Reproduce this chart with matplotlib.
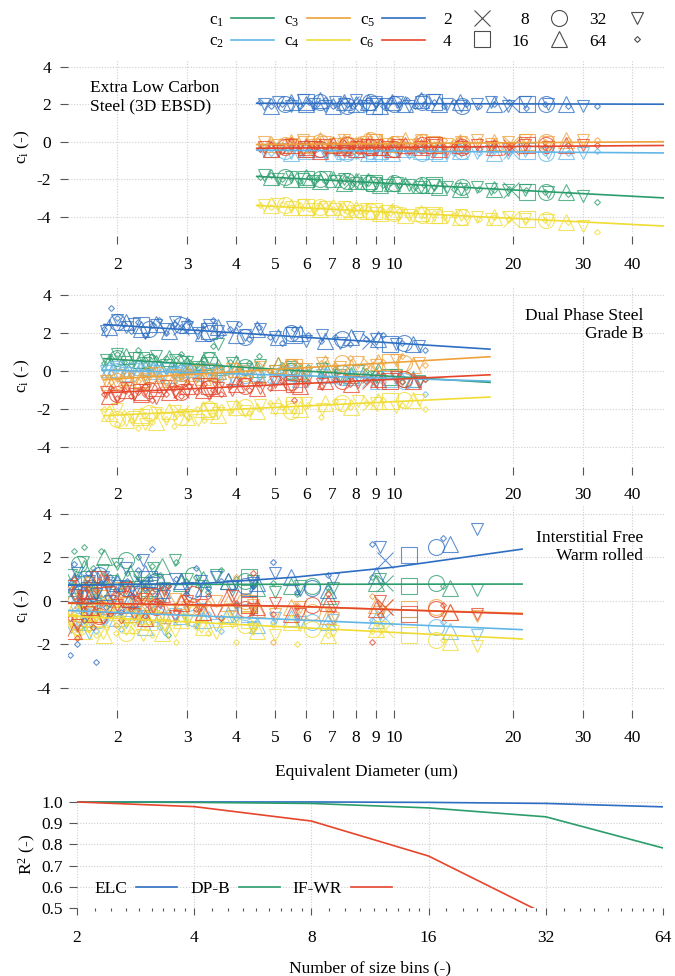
import matplotlib
matplotlib.use("Agg")
import matplotlib.pyplot as plt
from matplotlib.lines import Line2D
from matplotlib.ticker import FixedLocator, NullLocator, NullFormatter

plt.rcParams['font.family'] = ['Liberation Serif', 'DejaVu Serif']
plt.rcParams['mathtext.fontset'] = 'custom'
plt.rcParams['mathtext.rm'] = 'Liberation Serif'
plt.rcParams['mathtext.it'] = 'Liberation Serif:italic'
plt.rcParams['axes.unicode_minus'] = False

# bin counts and the shapes used for them
BINS = [2, 4, 8, 16, 32, 64]
COEFS = ['c1', 'c2', 'c3', 'c4', 'c5', 'c6']
COLORS = {'c1': '#2b9d6c', 'c2': '#62b6e7', 'c3': '#eea23c',
          'c4': '#f0dc34', 'c5': '#2d6ec2', 'c6': '#e6462c'}
MARKERS = {2: ('x', 12), 4: ('s', 11), 8: ('o', 11.5),
           16: ('^', 11), 32: ('v', 9), 64: ('D', 3)}

# ---------------- Extra Low Carbon (3D EBSD) ----------------
# bin centre diameters (um), one list per bin count (32 and 64 thinned out)
elc_diam = [
    [7.8, 19.8],
    [6.0, 8.9, 12.6, 21.7],
    [5.3, 6.5, 7.6, 8.7, 10.0, 11.8, 14.9, 24.2],
    [4.9, 5.5, 6.0, 6.5, 7.0, 7.5, 8.0, 8.6, 9.2, 9.9, 10.7, 11.7, 13.0, 14.7, 17.9, 27.3],
    [4.7, 5.1, 5.5, 5.9, 6.3, 6.7, 7.1, 7.5, 8.0, 8.5, 9.0, 9.6,
     10.2, 10.9, 11.7, 12.6, 13.6, 14.8, 16.2, 17.6, 19.4, 21.5, 24.5, 30.0],
    [4.6, 4.9, 5.2, 5.5, 5.8, 6.1, 6.4, 6.7, 7.0, 7.3, 7.6, 7.9, 8.2, 8.6, 9.0, 9.4,
     9.8, 10.3, 10.8, 11.3, 11.9, 12.6, 13.4, 14.2, 15.2, 16.4, 17.9, 19.5, 21.6, 24.1, 27.5, 32.7],
]
elc_c1 = [
    [-2.1, -2.6],
    [-2.0, -2.2, -2.3, -2.7],
    [-1.9, -2.0, -2.1, -2.2, -2.2, -2.3, -2.4, -2.7],
    [-1.9, -2.0, -1.9, -2.1, -2.0, -2.2, -2.1, -2.1, -2.3, -2.2, -2.3, -2.3, -2.4, -2.5, -2.5, -2.7],
    [-1.8, -2.0, -1.9, -2.0, -2.1, -1.9, -2.1, -2.0, -2.2, -2.1, -2.2, -2.3,
     -2.2, -2.3, -2.4, -2.3, -2.4, -2.5, -2.4, -2.5, -2.6, -2.6, -2.7, -2.9],
    [-1.9, -1.8, -2.0, -1.9, -2.1, -1.9, -2.0, -2.1, -1.9, -2.1, -2.0, -2.2, -2.1, -2.2, -2.1, -2.3,
     -2.2, -2.3, -2.2, -2.4, -2.3, -2.4, -2.3, -2.5, -2.4, -2.5, -2.6, -2.5, -2.6, -2.7, -2.8, -3.2],
]
elc_c2 = [
    [-0.5, -0.5],
    [-0.4, -0.6, -0.5, -0.5],
    [-0.5, -0.4, -0.6, -0.5, -0.4, -0.6, -0.5, -0.6],
    [-0.4, -0.6, -0.5, -0.4, -0.6, -0.5, -0.4, -0.6, -0.5, -0.6, -0.4, -0.5, -0.6, -0.5, -0.6, -0.5],
    [-0.5, -0.4, -0.6, -0.5, -0.3, -0.6, -0.5, -0.4, -0.6, -0.5, -0.4, -0.6,
     -0.5, -0.6, -0.4, -0.5, -0.6, -0.5, -0.6, -0.5, -0.6, -0.5, -0.6, -0.6],
    [-0.4, -0.6, -0.5, -0.3, -0.6, -0.5, -0.4, -0.6, -0.5, -0.4, -0.6, -0.5, -0.4, -0.6, -0.5, -0.6,
     -0.4, -0.5, -0.6, -0.5, -0.4, -0.6, -0.5, -0.6, -0.5, -0.6, -0.5, -0.6, -0.5, -0.6, -0.6, -0.5],
]
elc_c3 = [
    [-0.1, -0.1],
    [-0.1, 0.0, -0.2, 0.0],
    [-0.2, 0.0, -0.1, 0.1, -0.1, 0.0, -0.1, 0.0],
    [-0.1, 0.0, -0.2, 0.1, -0.1, 0.0, -0.2, 0.1, 0.0, -0.1, 0.1, 0.0, -0.1, 0.0, 0.0, 0.1],
    [0.0, -0.2, -0.1, 0.1, -0.2, 0.0, -0.1, 0.1, -0.1, 0.0, 0.1, -0.1,
     0.0, -0.2, 0.1, 0.0, -0.1, 0.0, 0.1, -0.1, 0.0, 0.1, 0.0, 0.1],
    [-0.1, 0.0, -0.2, 0.1, -0.1, -0.2, 0.1, 0.0, -0.1, 0.1, -0.2, 0.0, 0.1, -0.1, 0.0, -0.2,
     0.1, 0.0, -0.1, 0.1, 0.0, -0.1, 0.1, 0.0, -0.1, 0.1, 0.0, -0.1, 0.1, 0.0, 0.1, 0.1],
]
elc_c4 = [
    [-3.7, -4.1],
    [-3.5, -3.7, -3.9, -4.1],
    [-3.4, -3.5, -3.6, -3.7, -3.8, -3.9, -4.0, -4.2],
    [-3.4, -3.5, -3.5, -3.6, -3.5, -3.7, -3.6, -3.7, -3.8, -3.7, -3.9, -3.8, -3.9, -4.0, -4.0, -4.3],
    [-3.4, -3.3, -3.5, -3.4, -3.6, -3.5, -3.6, -3.5, -3.7, -3.6, -3.8, -3.7,
     -3.8, -3.9, -3.8, -3.9, -4.0, -3.9, -4.0, -4.1, -4.0, -4.1, -4.2, -4.5],
    [-3.4, -3.5, -3.3, -3.5, -3.4, -3.6, -3.5, -3.4, -3.6, -3.5, -3.7, -3.6, -3.7, -3.6, -3.8, -3.7,
     -3.8, -3.7, -3.9, -3.8, -3.9, -3.8, -4.0, -3.9, -4.0, -4.1, -4.0, -4.1, -4.2, -4.2, -4.3, -4.8],
]
elc_c5 = [
    [2.0, 2.0],
    [2.1, 1.9, 2.1, 2.0],
    [2.0, 2.1, 1.9, 2.1, 2.0, 2.1, 1.9, 2.0],
    [1.9, 2.1, 2.0, 2.2, 1.9, 2.1, 2.0, 2.1, 1.9, 2.1, 2.0, 2.2, 2.0, 2.1, 2.0, 2.0],
    [2.0, 2.1, 1.9, 2.2, 2.0, 1.9, 2.1, 2.0, 2.2, 1.9, 2.1, 2.0,
     2.1, 1.9, 2.1, 2.2, 2.0, 1.9, 2.0, 2.1, 1.9, 2.1, 2.0, 1.9],
    [2.1, 1.9, 2.0, 2.2, 1.9, 2.1, 2.0, 2.2, 1.9, 2.1, 2.0, 1.9, 2.1, 2.2, 2.0, 1.9,
     2.1, 2.0, 2.2, 1.9, 2.0, 2.1, 1.9, 2.1, 2.0, 1.9, 2.0, 2.1, 1.8, 2.0, 1.9, 1.9],
]
elc_c6 = [
    [-0.3, -0.3],
    [-0.4, -0.3, -0.2, -0.2],
    [-0.3, -0.4, -0.2, -0.3, -0.4, -0.2, -0.3, -0.2],
    [-0.4, -0.2, -0.3, -0.5, -0.2, -0.3, -0.4, -0.2, -0.3, -0.4, -0.2, -0.3, -0.4, -0.2, -0.3, -0.2],
    [-0.3, -0.5, -0.2, -0.4, -0.3, -0.2, -0.4, -0.5, -0.3, -0.2, -0.4, -0.3,
     -0.2, -0.4, -0.3, -0.2, -0.4, -0.3, -0.2, -0.3, -0.4, -0.2, -0.3, -0.2],
    [-0.4, -0.2, -0.5, -0.3, -0.2, -0.4, -0.3, -0.5, -0.2, -0.3, -0.4, -0.2, -0.5, -0.3, -0.2, -0.4,
     -0.3, -0.2, -0.4, -0.3, -0.2, -0.4, -0.3, -0.2, -0.3, -0.4, -0.2, -0.3, -0.2, -0.3, -0.2, -0.2],
]
elc_fit_x = [4.5, 48.5]
elc_fit = {'c1': [-1.85, -3.0], 'c2': [-0.45, -0.6], 'c3': [-0.15, 0.0],
           'c4': [-3.4, -4.5], 'c5': [2.05, 2.0], 'c6': [-0.35, -0.2]}

# ---------------- Dual Phase Steel Grade B ----------------
dp_diam = [
    [2.9, 8.7],
    [2.3, 3.4, 5.6, 9.8],
    [2.0, 2.4, 2.9, 3.4, 4.2, 5.5, 7.4, 10.6],
    [1.9, 2.1, 2.3, 2.5, 2.7, 3.0, 3.3, 3.6, 4.0, 4.5, 5.1, 5.8, 6.7, 7.8, 9.1, 11.2],
    [1.87, 2.0, 2.1, 2.2, 2.35, 2.5, 2.65, 2.8, 3.0, 3.2, 3.4, 3.6,
     3.9, 4.2, 4.6, 5.0, 5.5, 6.0, 6.6, 7.3, 8.1, 9.0, 10.1, 11.6],
    [1.85, 1.93, 2.0, 2.08, 2.16, 2.25, 2.35, 2.45, 2.55, 2.66, 2.78, 2.9, 3.03, 3.17, 3.32, 3.48,
     3.65, 3.85, 4.06, 4.3, 4.55, 4.85, 5.2, 5.6, 6.05, 6.55, 7.1, 7.75, 8.5, 9.4, 10.5, 12.0],
]
dp_c1 = [
    [0.4, -0.2],
    [0.6, 0.3, 0.0, -0.3],
    [0.7, 0.5, 0.4, 0.6, 0.2, 0.0, -0.1, -0.4],
    [0.5, 0.8, 0.6, 0.4, 0.7, 0.3, 0.5, 0.2, 0.4, 0.1, 0.3, -0.1, 0.1, -0.2, 0.0, -0.4],
    [0.6, 0.9, 0.5, 0.7, 0.4, 0.8, 0.3, 0.6, 0.5, 0.2, 0.7, 1.4,
     0.4, 0.1, 0.3, 0.0, 0.2, -0.1, 0.1, -0.2, 0.0, -0.3, -0.2, -0.5],
    [0.4, 0.7, 0.9, 0.5, 0.3, 1.1, 0.6, 0.8, 0.4, 0.7, 0.2, 0.9, 0.5, 0.3, 0.6, 1.3,
     0.2, 0.5, 0.1, 0.4, 0.8, 0.0, 0.3, -0.1, 0.2, -0.2, 0.1, -0.3, 0.0, -0.2, -0.5, -0.4],
]
dp_c2 = [
    [0.0, -0.4],
    [0.1, -0.1, -0.2, -0.4],
    [0.0, 0.1, -0.1, 0.0, -0.2, -0.1, -0.3, -0.5],
    [0.1, -0.1, 0.2, 0.0, -0.2, 0.1, -0.1, 0.0, -0.3, -0.1, -0.2, -0.4, -0.2, -0.3, -0.5, -0.4],
    [0.0, 0.2, -0.1, 0.1, -0.2, 0.0, 0.1, -0.1, 0.0, -0.2, 0.1, -0.1,
     -0.3, 0.0, -0.2, -0.4, -0.1, -0.3, -0.2, -0.4, -0.3, -0.5, -0.4, -0.6],
    [0.1, -0.1, 0.2, 0.0, -0.2, 0.1, -0.1, 0.3, -0.2, 0.0, 0.1, -0.3, 0.0, -0.1, 0.2, -0.2,
     -0.4, 0.0, -0.2, -0.1, -0.3, -0.5, -0.2, -0.4, -0.1, -0.3, -0.5, -0.2, -0.4, -0.6, -0.3, -1.2],
]
dp_c3 = [
    [-0.3, 0.3],
    [-0.4, -0.1, 0.2, 0.5],
    [-0.5, -0.2, -0.4, 0.0, -0.1, 0.2, 0.4, 0.4],
    [-0.6, -0.3, -0.5, -0.2, -0.4, -0.1, -0.3, 0.0, 0.1, -0.2, 0.3, 0.0, 0.4, 0.2, 0.5, 0.3],
    [-0.5, -0.2, -0.6, -0.3, -0.4, -0.1, -0.5, -0.2, -0.3, 0.0, -0.2, -0.4,
     0.1, -0.1, 0.2, 0.0, 0.3, 0.1, 0.4, 0.2, 0.5, 0.3, 0.6, 0.4],
    [-0.3, -0.6, -0.4, -0.7, -0.2, -0.5, -0.3, -0.1, -0.4, -0.6, -0.2, -0.3, 0.0, -0.4, -0.1, -0.3,
     0.1, -0.2, 0.2, -0.1, 0.3, 0.0, 0.2, 0.5, 0.1, 0.4, 0.3, 0.7, 0.2, 0.5, 0.8, 0.3],
]
dp_c4 = [
    [-2.2, -1.7],
    [-2.4, -2.1, -1.8, -1.6],
    [-2.5, -2.2, -2.4, -2.0, -1.9, -2.1, -1.7, -1.5],
    [-2.2, -2.6, -2.3, -2.7, -2.1, -2.4, -2.0, -2.3, -1.9, -2.1, -1.8, -2.0, -1.7, -1.9, -1.6, -1.5],
    [-2.3, -2.0, -2.6, -2.4, -2.8, -2.2, -2.5, -2.1, -2.3, -2.6, -2.0, -2.2,
     -1.9, -2.1, -1.8, -2.0, -1.9, -1.7, -2.0, -1.8, -1.6, -1.7, -1.9, -1.5],
    [-2.0, -2.4, -2.8, -2.2, -2.6, -3.0, -2.3, -2.7, -2.1, -2.5, -2.9, -2.2, -2.4, -2.0, -2.6, -2.3,
     -1.9, -2.1, -1.8, -2.2, -2.0, -1.7, -1.9, -2.1, -1.8, -2.4, -1.6, -1.9, -1.7, -1.5, -1.8, -2.0],
]
dp_c5 = [
    [2.3, 1.6],
    [2.4, 2.1, 1.9, 1.4],
    [2.6, 2.2, 2.4, 2.0, 1.8, 2.0, 1.7, 1.5],
    [2.3, 2.6, 2.2, 2.5, 2.1, 2.4, 2.0, 2.3, 1.9, 2.2, 1.8, 2.0, 1.6, 1.8, 1.7, 1.4],
    [2.1, 2.7, 2.3, 2.5, 2.0, 2.4, 2.2, 2.6, 2.3, 2.0, 2.4, 2.1,
     2.3, 1.9, 2.2, 1.8, 2.0, 1.6, 1.9, 1.5, 1.8, 1.7, 1.4, 1.3],
    [2.2, 3.3, 2.8, 2.5, 2.1, 2.6, 1.9, 2.4, 2.7, 2.0, 2.5, 2.3, 2.6, 2.1, 2.4, 2.7,
     1.9, 2.2, 2.5, 1.7, 2.3, 1.8, 1.5, 2.2, 1.9, 1.6, 1.8, 1.4, 1.7, 1.9, 1.5, 1.1],
]
dp_c6 = [
    [-1.0, -0.5],
    [-1.1, -0.8, -0.7, -0.5],
    [-1.2, -1.0, -1.1, -0.9, -0.8, -0.6, -0.5, -0.4],
    [-1.3, -1.0, -1.2, -0.9, -1.1, -0.8, -1.0, -0.9, -0.7, -0.9, -0.6, -0.8, -0.5, -0.7, -0.4, -0.5],
    [-1.1, -1.3, -0.9, -1.2, -1.0, -1.4, -0.8, -1.1, -1.0, -0.7, -1.2, -0.9,
     -1.0, -0.7, -0.9, -0.6, -0.8, -0.5, -0.7, -0.4, -0.6, -0.5, -0.3, -0.6],
    [-1.2, -0.9, -1.4, -1.0, -1.3, -1.1, -0.8, -1.5, -1.0, -1.2, -0.9, -1.3, -0.8, -1.1, -0.7, -1.0,
     -1.2, -0.8, -0.6, -1.0, -0.7, -0.9, -0.5, -1.5, -0.6, -0.8, -0.4, -0.7, -0.5, -0.3, -0.6, -0.4],
]
dp_fit_x = [1.85, 17.5]
dp_fit = {'c1': [0.65, -0.6], 'c2': [0.05, -0.53], 'c3': [-0.45, 0.75],
          'c4': [-2.35, -1.37], 'c5': [2.45, 1.15], 'c6': [-1.15, -0.2]}

# ---------------- Interstitial Free, warm rolled ----------------
if_diam = [
    [2.3, 9.5],
    [1.7, 2.4, 4.3, 10.9],
    [1.6, 1.8, 2.1, 2.5, 3.1, 4.2, 6.2, 12.8],
    [1.55, 1.65, 1.75, 1.85, 2.0, 2.15, 2.35, 2.6, 2.9, 3.3, 3.8, 4.5, 5.5, 6.8, 9.0, 13.9],
    [1.53, 1.58, 1.64, 1.7, 1.77, 1.84, 1.92, 2.0, 2.1, 2.2, 2.32, 2.46,
     2.62, 2.8, 3.0, 3.25, 3.55, 3.9, 4.4, 5.0, 5.8, 7.0, 9.2, 16.2],
    [1.52, 1.55, 1.58, 1.61, 1.65, 1.69, 1.73, 1.77, 1.82, 1.87, 1.92, 1.98, 2.04, 2.11, 2.18, 2.26,
     2.35, 2.45, 2.56, 2.68, 2.82, 2.98, 3.16, 3.38, 3.65, 3.98, 4.4, 4.95, 5.7, 6.8, 8.8, 13.3],
]
if_c1 = [
    [0.9, 0.8],
    [1.0, 0.6, 1.1, 0.7],
    [1.7, 0.5, 1.9, 0.8, 1.2, 0.9, 0.7, 0.8],
    [0.6, 1.5, 0.3, 2.0, 0.9, 1.3, 0.5, 1.6, 0.8, 1.0, 0.9, 0.6, 0.7, 0.2, 0.8, 0.6],
    [1.2, 0.1, 1.8, 0.7, -0.3, 1.4, 0.9, 1.7, 0.4, 1.1, 0.8, 1.5,
     0.6, 1.9, 1.0, 0.7, 1.2, 0.5, 0.9, 0.4, 0.7, 0.6, 1.0, 0.5],
    [0.9, 2.3, 1.1, -1.2, 2.5, 0.6, 1.5, 0.2, 2.3, 1.0, -0.6, 1.7, 0.8, 1.3, -0.4, 2.0,
     0.5, 1.6, 1.2, -1.6, 1.8, 0.9, 1.1, 0.4, 1.4, 1.0, 0.7, 0.8, 0.3, 0.6, 1.1, 0.7],
]
if_c2 = [
    [-0.5, -0.8],
    [-0.3, -0.8, -0.6, -1.1],
    [-0.2, -0.9, 0.2, -0.6, -0.8, -0.5, -1.0, -1.2],
    [0.3, -1.0, -0.4, 0.6, -0.8, -0.2, -1.2, -0.5, -0.7, -0.9, -0.6, -1.1, -0.8, -1.0, -0.9, -1.4],
    [-1.2, 0.4, -0.6, -1.5, 0.0, -0.9, 0.8, -0.3, -1.0, -0.5, -0.7, 0.1,
     -1.3, -0.6, -0.9, -0.4, -1.1, -0.7, -1.2, -0.8, -1.0, -0.9, -0.6, -1.6],
    [0.9, -0.8, -0.3, 1.2, -1.1, -0.5, 0.4, -1.4, -0.2, -0.9, 0.1, -0.6, -1.3, -0.4, 0.6, -1.0,
     -0.7, -0.2, -1.2, -0.5, -0.9, -0.3, -1.1, -0.6, -1.4, -0.8, -0.5, -1.0, -0.7, -1.1, -0.9, -1.0],
]
if_c3 = [
    [-0.2, -0.3],
    [0.1, -0.5, -0.1, -0.4],
    [-0.6, 0.4, -0.2, 0.2, -0.3, 0.0, -0.5, -0.3],
    [0.3, -0.8, 0.6, -0.4, 0.1, -0.6, 0.4, -0.2, 0.0, -0.5, -0.1, -0.4, -0.3, -0.7, -0.2, -0.5],
    [-1.0, 0.5, -0.3, 0.8, -0.7, 0.2, -0.4, 0.6, -0.1, -0.6, 0.3, -0.2,
     -0.8, 0.1, -0.3, -0.5, 0.0, -0.4, -0.2, -0.6, -0.3, -0.8, -0.5, -0.7],
    [-0.5, 0.7, -1.3, 0.3, -0.2, 1.0, -0.9, 0.4, -0.6, 0.9, 0.0, -1.1, 0.5, -0.3, 0.2, -0.7,
     0.6, -0.4, 0.1, -1.0, -0.2, 0.3, -0.5, -0.1, -0.8, 1.1, -0.3, -1.9, -0.2, -0.4, 0.2, -0.6],
]
if_c4 = [
    [-0.8, -1.3],
    [-0.5, -1.0, -0.9, -1.6],
    [-1.2, -0.4, -1.5, -0.8, -0.6, -1.1, -1.3, -1.8],
    [-0.3, -1.4, -0.8, -1.6, -0.5, -1.1, -0.7, -1.5, -0.9, -1.2, -0.8, -1.4, -1.0, -1.6, -1.3, -1.9],
    [-0.9, -1.6, -0.4, -1.2, -0.7, -1.5, -0.2, -1.0, -1.3, -0.6, -1.6, -0.8,
     -1.1, -1.4, -0.9, -1.2, -1.5, -1.0, -1.3, -1.6, -1.1, -1.4, -1.2, -2.1],
    [-1.1, -0.6, -1.5, -0.2, -0.9, -1.3, -0.5, -1.6, -0.8, -1.2, -0.4, -1.5, -0.7, -1.0, -1.4, -0.6,
     -1.1, -1.6, -0.9, -1.3, -1.9, -0.8, -1.2, -1.5, -1.0, -1.9, -1.3, -1.1, -2.0, -1.6, -1.4, -1.8],
]
if_c5 = [
    [0.8, 1.9],
    [0.5, 1.0, 0.6, 2.1],
    [0.3, 1.2, 0.6, 0.9, 0.5, 0.7, 0.6, 2.5],
    [0.9, 0.2, 1.1, 0.4, 0.8, 0.1, 1.3, 0.5, 0.9, 0.6, 0.9, 0.8, 1.1, 0.5, 1.2, 2.6],
    [0.5, 1.3, -0.2, 0.9, 0.3, 1.1, 0.0, 0.7, 1.5, 0.4, 1.9, 0.8,
     0.2, 1.0, 0.6, 0.9, 1.1, 0.7, 0.8, 1.3, 0.5, 1.0, 2.5, 3.3],
    [-2.5, 1.7, -2.0, 0.4, -0.9, 1.3, 0.1, -2.8, 0.8, -0.3, 1.1, 0.5, -0.5, 0.9, 0.2, 1.4,
     0.6, 2.4, -0.1, 0.7, 1.0, 0.3, 1.5, 0.6, 0.9, -0.2, 0.7, 1.8, 0.4, 1.2, 2.6, 2.9],
]
if_c6 = [
    [0.0, -0.3],
    [-0.3, 0.2, -0.2, -0.6],
    [0.4, -0.7, 0.1, -0.3, 0.3, -0.4, -0.2, -0.4],
    [-1.4, 0.5, -0.6, 1.0, -0.2, 0.6, -0.8, 0.3, -0.1, -0.5, 0.2, -0.3, -0.6, -0.1, -0.4, -0.5],
    [0.7, -1.1, 0.2, -0.5, 1.1, -0.8, 0.4, -0.2, 0.6, -0.6, 0.1, -0.3,
     0.5, -0.7, 0.0, -0.2, -0.5, 0.2, -0.4, -0.1, -0.6, -0.3, 0.0, -0.6],
    [-0.8, 1.0, -1.7, 0.2, -0.4, 0.8, -1.2, 0.5, -0.1, 1.1, -0.6, 0.3, -0.9, 0.6, -0.3, 0.1,
     -0.7, 0.4, -0.2, 0.7, -0.5, 0.0, -0.4, 0.2, -0.8, -0.1, 1.3, -0.6, -0.3, 0.3, -1.9, -0.2],
]
if_fit_x = {'c1': [1.5, 21.1], 'c2': [1.5, 5.56, 21.1], 'c3': [1.5, 5.56, 21.1],
            'c4': [1.5, 5.56, 21.1], 'c5': [1.5, 3.3, 5.56, 10.0, 21.1], 'c6': [1.5, 5.56, 21.1]}
if_fit = {'c1': [0.75, 0.77], 'c2': [-0.45, -0.87, -1.33], 'c3': [-0.12, -0.27, -0.58],
          'c4': [-0.7, -1.22, -1.76], 'c5': [0.72, 0.8, 1.08, 1.55, 2.38], 'c6': [-0.1, -0.25, -0.61]}

# ---------------- R^2 against number of bins ----------------
r2_elc = [1.0, 1.0, 1.0, 0.998, 0.993, 0.977]
r2_dp = [1.0, 0.998, 0.993, 0.972, 0.93, 0.783]
r2_if = [1.0, 0.978, 0.91, 0.745, 0.47, 0.25]

XTICKS = [2, 3, 4, 5, 6, 7, 8, 9, 10, 20, 30, 40]
YTICKS = [-4, -2, 0, 2, 4]
FS = 12.5
GRID = dict(color='#cfcfcf', linestyle=(0, (1, 1.5)), linewidth=0.8)

W, H = 675, 976
fig = plt.figure(figsize=(W / 100, H / 100), dpi=100)


def px_axes(left, top, right, bottom):
    return fig.add_axes([left / W, 1 - bottom / H, (right - left) / W, (bottom - top) / H])


def style_c_axes(ax):
    ax.set_xscale('log')
    ax.set_xlim(1.5, 48.2)
    ax.set_ylim(-4.9, 4.4)
    ax.set_xticks(XTICKS, labels=[str(t) for t in XTICKS])
    ax.xaxis.set_minor_locator(NullLocator())
    ax.set_yticks(YTICKS, labels=[str(t) for t in YTICKS])
    for s in ax.spines.values():
        s.set_visible(False)
    ax.spines['bottom'].set_position(('outward', 2))
    ax.tick_params(axis='x', length=5.8, width=0.8, color='#555555', pad=9, labelsize=FS)
    ax.tick_params(axis='y', length=5.8, width=0.8, color='#555555', pad=6.5, labelsize=FS)
    ax.grid(True, **GRID)
    ax.set_axisbelow(True)
    ax.text(-0.077, 0.5, r'c$_\mathrm{i}$ (-)', transform=ax.transAxes, rotation=90,
            ha='center', va='center', fontsize=FS)


def draw_panel(ax, diam, series, fit_x, fits):
    for coef in COEFS:
        for k, n in enumerate(BINS):
            x = diam[k]
            y = series[coef][k]
            m = min(len(x), len(y))
            mk, ms = MARKERS[n]
            ax.plot(x[:m], y[:m], linestyle='none', marker=mk, markersize=ms,
                    markerfacecolor='none', markeredgecolor=COLORS[coef],
                    markeredgewidth=0.8, alpha=0.75, zorder=2)
    for coef in COEFS:
        fx = fit_x[coef] if isinstance(fit_x, dict) else fit_x
        ax.plot(fx, fits[coef], color=COLORS[coef], lw=1.2, zorder=3)


ax1 = px_axes(68, 59.2, 664, 233.6)
ax2 = px_axes(68, 287.4, 664, 464.1)
ax3 = px_axes(68, 505.3, 664, 707.1)
ax4 = px_axes(77, 800.9, 663, 908)

panels = [
    (ax1, elc_diam, dict(zip(COEFS, [elc_c1, elc_c2, elc_c3, elc_c4, elc_c5, elc_c6])), elc_fit_x, elc_fit),
    (ax2, dp_diam, dict(zip(COEFS, [dp_c1, dp_c2, dp_c3, dp_c4, dp_c5, dp_c6])), dp_fit_x, dp_fit),
    (ax3, if_diam, dict(zip(COEFS, [if_c1, if_c2, if_c3, if_c4, if_c5, if_c6])), if_fit_x, if_fit),
]
for ax, diam, series, fx, fits in panels:
    style_c_axes(ax)
    draw_panel(ax, diam, series, fx, fits)

ax1.text(0.037, 0.783, 'Extra Low Carbon\nSteel (3D EBSD)', transform=ax1.transAxes,
         ha='left', va='center', fontsize=FS, linespacing=1.15)
ax2.text(0.965, 0.787, 'Dual Phase Steel\nGrade B', transform=ax2.transAxes,
         ha='right', va='center', multialignment='right', fontsize=FS, linespacing=1.15)
ax3.text(0.965, 0.793, 'Interstitial Free\nWarm rolled', transform=ax3.transAxes,
         ha='right', va='center', multialignment='right', fontsize=FS, linespacing=1.15)
ax3.text(0.5, -0.32, 'Equivalent Diameter (um)', transform=ax3.transAxes,
         ha='center', va='center', fontsize=FS)

# bottom panel: goodness of fit
ax4.set_xscale('log', base=2)
ax4.set_xlim(2, 64)
ax4.set_ylim(0.5, 1.005)
ax4.set_xticks(BINS, labels=[str(b) for b in BINS])
ax4.xaxis.set_minor_locator(FixedLocator([b + b * j / 9 for b in BINS[:-1] for j in range(1, 9)]))
ax4.xaxis.set_minor_formatter(NullFormatter())
ax4.set_yticks([0.5, 0.6, 0.7, 0.8, 0.9, 1.0], labels=['0.5', '0.6', '0.7', '0.8', '0.9', '1.0'])
for s in ax4.spines.values():
    s.set_visible(False)
ax4.tick_params(axis='x', which='major', length=5, width=0.8, color='#555555', pad=11, labelsize=FS)
ax4.tick_params(axis='x', which='minor', length=2.2, width=0.8, color='#555555')
ax4.tick_params(axis='y', length=5.8, width=0.8, color='#555555', pad=4.5, labelsize=FS)
ax4.grid(True, which='major', **GRID)
ax4.set_axisbelow(True)
ax4.plot(BINS, r2_elc, color=COLORS['c5'], lw=1.2)
ax4.plot(BINS, r2_dp, color=COLORS['c1'], lw=1.2)
ax4.plot(BINS, r2_if, color=COLORS['c6'], lw=1.2)
ax4.legend([Line2D([], [], color=COLORS[c], lw=1.2) for c in ('c5', 'c1', 'c6')],
           ['ELC', 'DP-B', 'IF-WR'], ncol=3, markerfirst=False, frameon=False,
           loc='center left', bbox_to_anchor=(0.03, 0.178), handlelength=2.36,
           handletextpad=0.5, columnspacing=0.75, fontsize=FS, borderpad=0, borderaxespad=0)
ax4.text(-0.084, 0.5, r'R$^2$ (-)', transform=ax4.transAxes, rotation=90,
         ha='center', va='center', fontsize=FS)
ax4.text(0.5, -0.56, 'Number of size bins (-)', transform=ax4.transAxes,
         ha='center', va='center', fontsize=FS)

# legends on top of the figure
col_handles = [Line2D([], [], color=COLORS[c], lw=1.2) for c in COEFS]
col_labels = ['c$_%s$' % c[1] for c in COEFS]
fig.legend(col_handles, col_labels, ncol=3, markerfirst=False, frameon=False,
           loc='upper left', bbox_to_anchor=(209 / W, 1 - 12 / H), handlelength=2.47,
           handletextpad=0.4, columnspacing=0.57, labelspacing=0.3, fontsize=FS,
           borderpad=0, borderaxespad=0)
bin_handles = [Line2D([], [], linestyle='none', marker=MARKERS[b][0], markersize=MARKERS[b][1],
                      markerfacecolor='none', markeredgecolor='#4d4d4d', markeredgewidth=0.8)
               for b in BINS]
fig.legend(bin_handles, [str(b) for b in BINS], ncol=3, markerfirst=False, frameon=False,
           loc='upper left', bbox_to_anchor=(443 / W, 1 - 12 / H), handlelength=1.6,
           handletextpad=0.93, columnspacing=0.93, labelspacing=0.3, fontsize=FS,
           borderpad=0, borderaxespad=0)

fig.savefig('out.png', dpi=100)
